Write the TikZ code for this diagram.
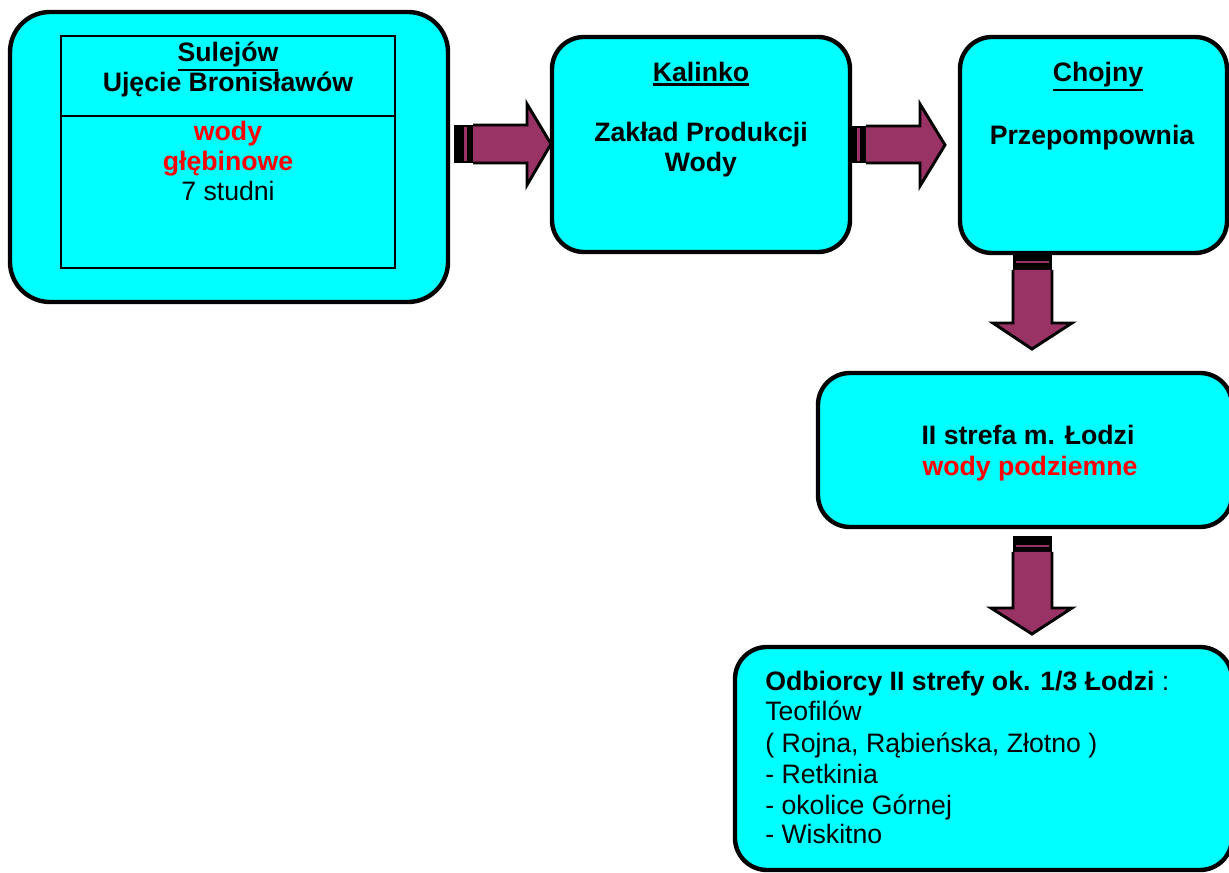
\documentclass[tikz,border=0pt]{standalone}
\usepackage{fontspec}
\setmainfont{Liberation Sans}
\definecolor{boxcyan}{HTML}{00FFFF}
\definecolor{arrmaroon}{HTML}{993366}
\definecolor{txtred}{HTML}{FF0000}
\newcommand\myul[1]{\leavevmode\vtop{\hbox{#1}\kern0.9pt\hrule height 2pt}}
\begin{document}
\begin{tikzpicture}[x=0.75pt,y=-0.75pt,
  box/.style={draw=black,line width=3.3pt,fill=boxcyan,rounded corners=24pt,inner sep=0pt},
  lbl/.style={anchor=base,inner sep=0pt,font=\fontsize{20}{23}\selectfont\bfseries},
  lblr/.style={anchor=base,inner sep=0pt,font=\fontsize{20}{23}\selectfont},
  blk/.style={fill=arrmaroon,draw=black,line width=2.2pt,line join=miter},
  stub/.style={fill=black}]
\useasboundingbox (0,0) rectangle (1229,873);

% boxes
\node[box,minimum width=328.5pt,minimum height=217.5pt,rounded corners=30pt] (sul) at (229,157) {};
\node[draw=black,line width=1.5pt,inner sep=0pt,minimum width=250.5pt,minimum height=174pt] (sulin) at (228,152) {};
\draw[line width=1.5pt] (sulin.west |- 0,116) -- (sulin.east |- 0,116);
\node[box,minimum width=223.5pt,minimum height=161.25pt] (kal) at (701,144.5) {};
\node[box,minimum width=200.25pt,minimum height=162pt] (cho) at (1093.5,145) {};
\node[box,minimum width=310.5pt,minimum height=115.5pt] (str) at (1025,450) {};
\node[box,minimum width=372.75pt,minimum height=167.25pt] (odb) at (983.5,758.5) {};

% texts
\node[lbl] (t1) at (228,62) {\myul{Sulejów}};
\node[lbl] (t2) at (228,92) {Ujęcie Bronisławów};
\node[lbl,text=txtred] (t3) at (228,141) {wody};
\node[lbl,text=txtred] (t4) at (228,171) {głębinowe};
\node[lblr] (t5) at (228,201) {7 studni};

\node[lbl] (k1) at (701,82) {\myul{Kalinko}};
\node[lbl] (k2) at (701,142) {Zakład Produkcji};
\node[lbl] (k3) at (701,172) {Wody};

\node[lbl] (c1) at (1098,82) {\myul{Chojny}};
\node[lbl] (c2) at (1092,145) {Przepompownia};

\node[lbl] (s1) at (1028,445) {II strefa m. Łodzi};
\node[lbl,text=txtred] (s2) at (1030,476) {wody podziemne};

\node[lbl,anchor=base west] (o1) at (765,690) {Odbiorcy II strefy ok. 1/3 Łodzi\textmd{ :}};
\node[lblr,anchor=base west] (o2) at (765,720) {Teofilów};
\node[lblr,anchor=base west] (o3) at (765,752) {( Rojna, Rąbieńska, Złotno )};
\node[lblr,anchor=base west] (o4) at (765,783) {- Retkinia};
\node[lblr,anchor=base west] (o5) at (765,814) {- okolice Górnej};
\node[lblr,anchor=base west] (o6) at (765,843) {- Wiskitno};

% arrow 1 (sul -> kal)
\fill[stub] (454,125) rectangle (473,163);
\fill[arrmaroon] (464,127) rectangle (466.5,161);
\draw[blk] (473,125) -- (527,125) -- (527,104) -- (551,144) -- (527,185) -- (527,163) -- (473,163);
% arrow 2 (kal -> cho)
\fill[stub] (850,126) rectangle (866,163);
\fill[arrmaroon] (857,128) rectangle (859.5,161);
\draw[blk] (866,126) -- (920,126) -- (920,104) -- (945,145) -- (920,186) -- (920,163) -- (866,163);
% arrow 3 (cho -> str)
\fill[stub] (1013,254) rectangle (1052,270);
\fill[arrmaroon] (1016,261) rectangle (1049,263.5);
\draw[blk] (1013,270) -- (1013,323) -- (993,323) -- (1032,349) -- (1072,323) -- (1052,323) -- (1052,270);
% arrow 4 (str -> odb)
\fill[stub] (1013,536) rectangle (1052,552);
\fill[arrmaroon] (1016,545) rectangle (1049,547.5);
\draw[blk] (1013,552) -- (1013,608) -- (991,608) -- (1032,634) -- (1072,608) -- (1052,608) -- (1052,552);
\end{tikzpicture}
\end{document}
